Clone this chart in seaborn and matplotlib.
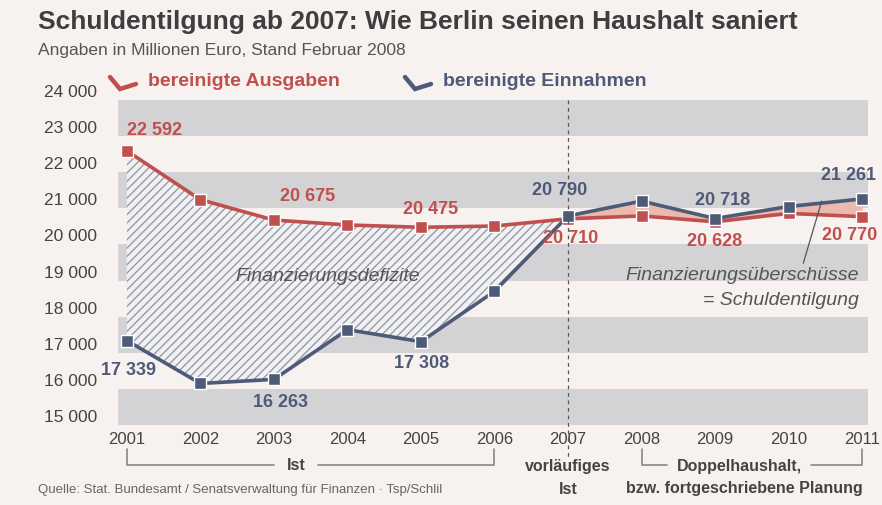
import numpy as np
import pandas as pd
import matplotlib
matplotlib.use('Agg')
import matplotlib.pyplot as plt
import matplotlib.transforms as mtransforms
from matplotlib.lines import Line2D
import seaborn as sns

# Daten (Millionen Euro)
jahre = [2001, 2002, 2003, 2004, 2005, 2006, 2007, 2008, 2009, 2010, 2011]
ausgaben = [22592, 21240, 20675, 20540, 20475, 20510, 20710, 20790, 20628, 20860, 20770]
einnahmen = [17339, 16150, 16263, 17640, 17308, 18700, 20790, 21200, 20718, 21050, 21261]
y_ticks = [15000, 16000, 17000, 18000, 19000, 20000, 21000, 22000, 23000, 24000]

# beschriftete Werte: (jahr, offset x, offset y) in Pixel
label_ausgaben = [(2001, 28, 20), (2003, 34, 24), (2005, 10, 18), (2007, 3, -20),
                  (2009, 0, -20), (2011, -12, -19)]
label_einnahmen = [(2001, 2, -30), (2003, 7, -23), (2005, 1, -22), (2007, -8, 25),
                   (2009, 8, 18), (2011, -14, 23)]

ROT = '#c0504d'
BLAU = '#4e5b78'
GRAU_TEXT = '#444444'
BG = '#f7f1f0'
BAND = '#d3d3d5'

sns.set_style('white')
plt.rcParams['font.family'] = ['Liberation Sans', 'DejaVu Sans']
plt.rcParams['hatch.linewidth'] = 0.9

df = pd.DataFrame({
    'Jahr': jahre * 2,
    'Wert': ausgaben + einnahmen,
    'Reihe': ['bereinigte Ausgaben'] * len(jahre) + ['bereinigte Einnahmen'] * len(jahre),
})

fig = plt.figure(figsize=(8.82, 5.05), dpi=100, facecolor=BG)
ax = fig.add_axes([118 / 882, 1 - 425 / 505, 750 / 882, 325 / 505])
ax.set_facecolor(BG)

# graue Baender
for lo in [15000, 17000, 19000, 21000, 23000]:
    ax.axhspan(lo, lo + 1000, color=BAND, zorder=0, lw=0)

a = np.array(ausgaben)
e = np.array(einnahmen)
x = np.array(jahre)

# Finanzierungsdefizite (schraffiert)
defi = x <= 2007
ax.fill_between(x[defi], e[defi], a[defi], facecolor='#f1f1f2', edgecolor='#8d92a6',
                hatch='////', lw=0, zorder=1)
# Finanzierungsueberschuesse
ueb = x >= 2007
ax.fill_between(x[ueb], a[ueb], e[ueb], facecolor='#ebb9ad', lw=0, zorder=1)

sns.lineplot(data=df, x='Jahr', y='Wert', hue='Reihe', ax=ax,
             palette={'bereinigte Ausgaben': ROT, 'bereinigte Einnahmen': BLAU},
             marker='s', markersize=9, markeredgecolor='white', markeredgewidth=1,
             linewidth=2.6, legend=False, zorder=3)

for jahr, dx, dy in label_ausgaben:
    v = ausgaben[jahre.index(jahr)]
    ax.annotate(f'{v:,}'.replace(',', ' '), (jahr, v), xytext=(dx, dy),
                textcoords='offset pixels', ha='center', va='center',
                color=ROT, fontsize=13, fontweight='bold', zorder=4, annotation_clip=False)
for jahr, dx, dy in label_einnahmen:
    v = einnahmen[jahre.index(jahr)]
    ax.annotate(f'{v:,}'.replace(',', ' '), (jahr, v), xytext=(dx, dy),
                textcoords='offset pixels', ha='center', va='center',
                color=BLAU, fontsize=13, fontweight='bold', zorder=4, annotation_clip=False)

ax.set_xlim(2000.88, 2011.08)
ax.set_ylim(15000, 24000)
ax.set_xticks(jahre)
ax.set_xticklabels([str(j) for j in jahre], fontsize=12, color=GRAU_TEXT)
ax.set_yticks(y_ticks)
ax.set_yticklabels([f'{t:,}'.replace(',', ' ') for t in y_ticks], fontsize=12.5, color=GRAU_TEXT)
for lab in ax.get_yticklabels():
    lab.set_va('bottom')
ax.tick_params(axis='both', length=0)
ax.tick_params(axis='y', pad=15)
ax.tick_params(axis='x', pad=5)
ax.set_xlabel('')
ax.set_ylabel('')
sns.despine(ax=ax, left=True, bottom=True)

# Annotationen
ax.text(2003.73, 19100, 'Finanzierungsdefizite', fontsize=14, style='italic',
        color='#555555', ha='center', va='center', zorder=4)
ax.text(2010.95, 19130, 'Finanzierungsüberschüsse', fontsize=14, style='italic',
        color='#555555', ha='right', va='center', zorder=4)
ax.text(2010.95, 18440, '= Schuldentilgung', fontsize=14, style='italic',
        color='#555555', ha='right', va='center', zorder=4)
ax.plot([2010.2, 2010.45], [19480, 21200], color='#555555', lw=0.9, zorder=4)

# Rahmen unten: Klammern und gestrichelte Linie
trans = mtransforms.blended_transform_factory(ax.transData, fig.transFigure)


def fy(py):
    return 1 - py / 505


klammer = dict(color='#888888', lw=1.2, transform=trans, clip_on=False)
fig.add_artist(Line2D([2007, 2007], [fy(100), fy(457)], ls=(0, (3, 3)), color='#555555',
                      lw=0.9, transform=trans))
fig.add_artist(Line2D([2001, 2001, 2003.0], [fy(449), fy(465), fy(465)], **klammer))
fig.add_artist(Line2D([2003.6, 2006, 2006], [fy(465), fy(465), fy(449)], **klammer))
fig.add_artist(Line2D([2008, 2008, 2008.35], [fy(449), fy(465), fy(465)], **klammer))
fig.add_artist(Line2D([2010.3, 2011, 2011], [fy(465), fy(465), fy(449)], **klammer))
fig.text(2003.3, fy(466), 'Ist', transform=trans, ha='center', va='center',
         fontsize=11.5, fontweight='bold', color=GRAU_TEXT)
fig.text(2007, fy(467), 'vorläufiges', transform=trans, ha='center', va='center',
         fontsize=11.5, fontweight='bold', color=GRAU_TEXT)
fig.text(2007, fy(489), 'Ist', transform=trans, ha='center', va='center',
         fontsize=11.5, fontweight='bold', color=GRAU_TEXT)
fig.text(2009.33, fy(467), 'Doppelhaushalt,', transform=trans, ha='center', va='center',
         fontsize=11.5, fontweight='bold', color=GRAU_TEXT)
fig.text(2009.4, fy(489), 'bzw. fortgeschriebene Planung', transform=trans, ha='center',
         va='center', fontsize=11.5, fontweight='bold', color=GRAU_TEXT)

# Titel, Untertitel, Legende, Quelle
fig.text(38 / 882, fy(22), 'Schuldentilgung ab 2007: Wie Berlin seinen Haushalt saniert',
         fontsize=19, fontweight='bold', color='#3e3e3e', va='center', ha='left')
fig.text(38 / 882, fy(50), 'Angaben in Millionen Euro, Stand Februar 2008',
         fontsize=12.5, color='#555555', va='center', ha='left')

for x0, farbe, text in [(110, ROT, 'bereinigte Ausgaben'), (405, BLAU, 'bereinigte Einnahmen')]:
    fig.add_artist(Line2D([x0 / 882, (x0 + 10) / 882, (x0 + 26) / 882],
                          [fy(77), fy(89), fy(84)], color=farbe, lw=3.2,
                          solid_joinstyle='miter'))
    fig.text((x0 + 38) / 882, fy(82), text, fontsize=14, fontweight='bold',
             color=farbe, va='center', ha='left')

fig.text(38 / 882, fy(490), 'Quelle: Stat. Bundesamt / Senatsverwaltung für Finanzen · Tsp/Schlil',
         fontsize=9.5, color='#666666', va='center', ha='left')

fig.savefig('out.png', dpi=100, facecolor=BG)
